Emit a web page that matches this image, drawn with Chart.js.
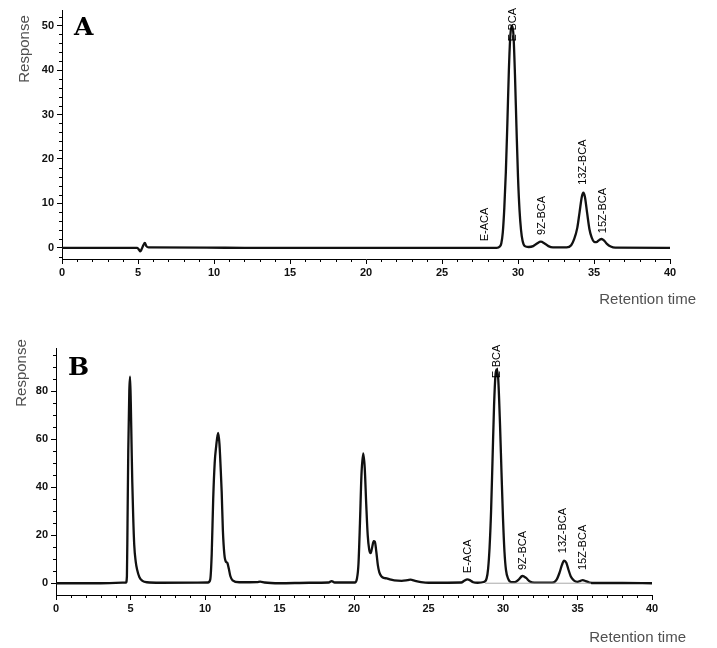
<!DOCTYPE html>
<html>
<head>
<meta charset="utf-8">
<script src="https://cdn.jsdelivr.net/npm/chart.js@4.4.0/dist/chart.umd.min.js"></script>
<style>
body { margin: 0; background: #fff; }
#wrapA { position: absolute; left: 0; top: 0; }
#wrapB { position: absolute; left: 0; top: 320px; }
</style>
</head>
<body>
<div id="wrapA"><canvas id="chartA" width="717" height="320"></canvas></div>
<div id="wrapB"><canvas id="chartB" width="717" height="328"></canvas></div>
<script>
// Panel A chromatogram (retention time in min, response)
var timeA = [0, 4.95, 5.08, 5.15, 5.25, 5.35, 5.45, 5.55, 5.7, 9.5, 12, 28.6, 28.8, 28.9, 29.0, 29.1, 29.2, 29.3, 29.4, 29.5, 29.6,
  29.7, 29.8, 29.9, 30.0, 30.1, 30.2, 30.3, 30.45, 30.7, 31.0, 31.25, 31.5, 31.75, 32.0, 32.3, 33.2, 33.5, 33.7, 33.9,
  34.05, 34.2, 34.3, 34.4, 34.55, 34.7, 34.85, 35.0, 35.15, 35.35, 35.5, 35.65, 35.85, 36.1, 36.4, 40]
var respA = [0, 0, -0.5, -0.8, -0.2, 0.6, 1.1, 0.4, 0.1, 0.05, 0, 0, 0.3, 1, 3.5, 9, 17, 28, 40, 48, 50,
  48, 39, 27, 16, 8.5, 4, 1.6, 0.4, 0.2, 0.4, 1, 1.4, 1, 0.4, 0.1, 0.1, 0.6, 2, 4.5,
  8, 11.5, 12.4, 11.5, 7.8, 4.2, 2.3, 1.4, 1.3, 1.8, 2, 1.7, 0.9, 0.3, 0.05, 0]

// Panel B chromatogram
var timeB = [0, 3, 4.7, 4.76, 4.8, 4.85, 4.92, 4.97, 5.02, 5.07, 5.12, 5.18, 5.25, 5.35, 5.45, 5.6, 5.8, 6.1, 7,
  10.2, 10.35, 10.45, 10.55, 10.65, 10.75, 10.88, 10.97, 11.05, 11.12, 11.2, 11.3, 11.4, 11.5, 11.6, 11.7, 11.85, 12.3,
  13.5, 13.7, 14, 15, 17, 18.3, 18.5, 18.7,
  20.05, 20.2, 20.3, 20.4, 20.5, 20.62, 20.72, 20.82, 20.92, 21.02, 21.12, 21.22, 21.32, 21.4, 21.5, 21.6, 21.7, 21.85,
  22.0, 22.2, 22.4, 22.7, 23.2, 23.6, 23.8, 24.1, 24.5, 25,
  27.2, 27.4, 27.6, 27.8, 28.0, 28.3, 28.7, 28.9, 29.0, 29.1, 29.2, 29.3, 29.4, 29.5, 29.58, 29.68, 29.8, 29.9, 30.0,
  30.1, 30.2, 30.35, 30.55, 30.8, 31.05, 31.3, 31.55, 31.8, 32.1, 33.3, 33.6, 33.8, 33.95, 34.1, 34.25, 34.4, 34.55,
  34.75, 35.0, 35.2, 35.35, 35.55, 35.8, 36.2, 38, 40]
var respB = [0, 0, 0.3, 3, 25, 55, 80, 86, 75, 58, 42, 28, 16, 9, 5.5, 2.5, 1, 0.4, 0.2,
  0.3, 1.5, 12, 35, 50, 57, 62.6, 58, 48, 38, 22, 12, 9, 8.5, 6, 3, 1.2, 0.4,
  0.5, 0.7, 0.3, 0, 0.2, 0.3, 0.9, 0.3,
  0.3, 2, 8, 25, 45, 54, 48, 33, 20, 14, 12.5, 15, 17.5, 17.3, 13, 7.5, 4.5, 2.8,
  2.2, 2, 1.6, 1.2, 1, 1.3, 1.5, 1, 0.5, 0.2,
  0.3, 1, 1.6, 1.2, 0.4, 0.2, 0.5, 2, 6, 15, 30, 52, 74, 87, 89, 85, 66, 46, 27,
  13, 5.5, 1.8, 0.5, 0.5, 1.5, 3, 2.2, 0.7, 0.2, 0.2, 1.5, 4.5, 7.5, 9.4, 8.5, 5.5, 2.8,
  1.2, 0.6, 1, 1.3, 0.9, 0.3, 0.1, 0.1, 0]

// integration baseline drawn under the main peaks in B
var baseTimeB = [28.8, 35.9]
var baseRespB = [0, 0]

var peakNames = ['E-ACA', 'E-BCA', '9Z-BCA', '13Z-BCA', '15Z-BCA']
var xTicks = [0, 5, 10, 15, 20, 25, 30, 35, 40]
var yTicksA = [0, 10, 20, 30, 40, 50]
var yTicksB = [0, 20, 40, 60, 80]

function pts(xs, ys) {
  return xs.map(function (x, i) { return { x: x, y: ys[i] } })
}

// minor ticks, axis titles, panel letters and peak names
var decor = {
  id: 'decor',
  afterDraw: function (chart, args, o) {
    var ctx = chart.ctx
    var xs = chart.scales.x
    var ys = chart.scales.y
    ctx.save()
    ctx.strokeStyle = '#000'
    ctx.lineWidth = 1
    ctx.beginPath()
    for (var v = 0; v <= 40; v += 1) {
      if (v % 5 === 0) continue
      var px = Math.round(xs.getPixelForValue(v)) + 0.5
      ctx.moveTo(px, ys.bottom)
      ctx.lineTo(px, ys.bottom + 3)
    }
    for (var w = Math.ceil(ys.min / o.yMinor) * o.yMinor; w <= ys.max; w += o.yMinor) {
      if (w % o.yMajor === 0) continue
      var py = Math.round(ys.getPixelForValue(w)) + 0.5
      ctx.moveTo(xs.left, py)
      ctx.lineTo(xs.left - 3, py)
    }
    ctx.stroke()

    // panel letter
    ctx.fillStyle = '#000'
    ctx.font = 'bold 25px "DejaVu Serif"'
    ctx.textAlign = 'left'
    ctx.textBaseline = 'alphabetic'
    ctx.fillText(o.letter, o.letterX, o.letterY)

    // axis titles
    ctx.fillStyle = '#505050'
    ctx.font = '15px "Liberation Sans"'
    ctx.textAlign = 'right'
    ctx.textBaseline = 'middle'
    ctx.fillText('Retention time', o.xTitleX, o.xTitleY)
    ctx.save()
    ctx.translate(o.yTitleX, o.yTitleY)
    ctx.rotate(-Math.PI / 2)
    ctx.textAlign = 'center'
    ctx.fillText('Response', 0, 0)
    ctx.restore()

    // peak names, rotated, starting just above each peak
    ctx.fillStyle = '#000'
    ctx.font = '11px "Liberation Sans"'
    peakNames.forEach(function (name, i) {
      var px = xs.getPixelForValue(o.labelX[i])
      var py = ys.getPixelForValue(o.labelY[i])
      ctx.save()
      ctx.translate(px, py)
      ctx.rotate(-Math.PI / 2)
      ctx.textAlign = 'left'
      ctx.textBaseline = 'middle'
      ctx.fillText(name, 0, 0)
      ctx.restore()
    })
    ctx.restore()
  }
}

function makeChart(id, data, extra, yMin, yMax, yTicks, box, deco) {
  var datasets = [{
    data: data,
    borderColor: '#111',
    borderWidth: 2.3,
    pointRadius: 0,
    cubicInterpolationMode: 'monotone',
    fill: false
  }]
  if (extra) {
    datasets.unshift({
      data: extra,
      borderColor: '#aaa',
      borderWidth: 1,
      pointRadius: 0,
      fill: false
    })
  }
  var tickFont = { family: '"Liberation Sans Narrow", "Liberation Sans"', size: 11, weight: 'bold' }
  return new Chart(document.getElementById(id), {
    type: 'line',
    data: { datasets: datasets },
    options: {
      responsive: false,
      animation: false,
      layout: { padding: { left: 0, top: box.top, right: box.right, bottom: 0 } },
      plugins: { legend: { display: false }, tooltip: { enabled: false }, decor: deco },
      scales: {
        x: {
          type: 'linear',
          min: 0,
          max: 40,
          afterBuildTicks: function (s) { s.ticks = xTicks.map(function (v) { return { value: v } }) },
          afterFit: function (s) { s.height = box.xh },
          ticks: { color: '#111', font: tickFont, padding: 2, maxRotation: 0 },
          grid: { drawOnChartArea: false, tickLength: 5, tickColor: '#000' },
          border: { color: '#000', width: 1 }
        },
        y: {
          min: yMin,
          max: yMax,
          afterBuildTicks: function (s) { s.ticks = yTicks.map(function (v) { return { value: v } }) },
          afterFit: function (s) { s.width = box.yw },
          ticks: { color: '#111', font: tickFont, padding: 3 },
          grid: { drawOnChartArea: false, tickLength: 5, tickColor: '#000' },
          border: { color: '#000', width: 1 }
        }
      }
    },
    plugins: [decor]
  })
}

var chartA = makeChart('chartA', pts(timeA, respA), null, -2.5, 53.5, yTicksA,
  { top: 10, right: 47, xh: 61, yw: 62 },
  { letter: 'A', letterX: 74, letterY: 35, yMinor: 2, yMajor: 10,
    xTitleX: 696, xTitleY: 300, yTitleX: 25, yTitleY: 49,
    labelX: [27.8, 29.7, 31.55, 34.3, 35.6], labelY: [1.5, 46.4, 2.9, 14.2, 3.3] })

var chartB = makeChart('chartB', pts(timeB, respB), pts(baseTimeB, baseRespB), -4.9, 97.9, yTicksB,
  { top: 28, right: 65, xh: 53, yw: 56 },
  { letter: 'B', letterX: 68, letterY: 55, yMinor: 5, yMajor: 20,
    xTitleX: 686, xTitleY: 318, yTitleX: 22, yTitleY: 53,
    labelX: [27.67, 29.58, 31.36, 34.05, 35.35], labelY: [4.2, 85.3, 5.5, 12.5, 5.5] })
</script>
</body>
</html>
